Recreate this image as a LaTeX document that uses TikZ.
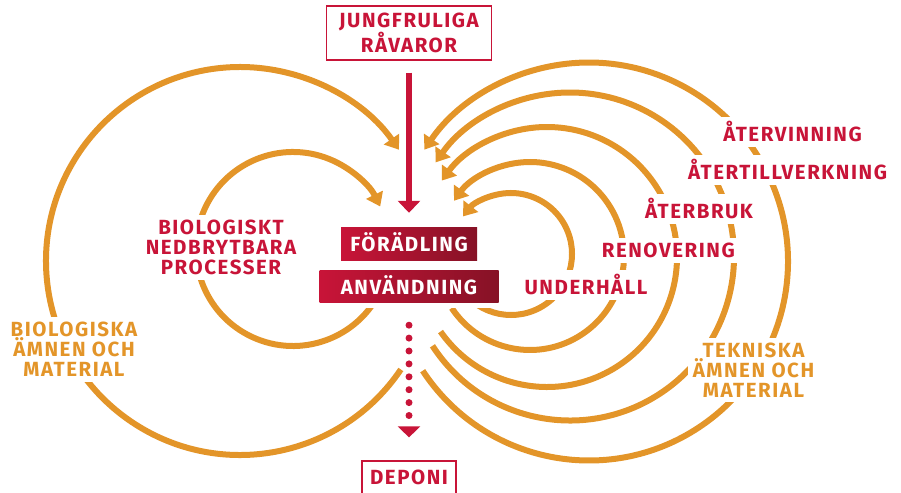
\documentclass[tikz,border=0pt]{standalone}
\usepackage{fontspec}
\setmainfont{Fira Sans}[LetterSpace=7.5]
\usetikzlibrary{arrows.meta}
\definecolor{loopgold}{RGB}{227,149,41}
\definecolor{stagered}{RGB}{200,20,56}
\definecolor{stagedark}{RGB}{134,18,38}

\begin{document}
\begin{tikzpicture}[
    x=1pt, y=1pt,
    every node/.style={font=\fontsize{20.5}{20}\selectfont\bfseries, align=center},
    stage/.style={text=white, left color=stagered, right color=stagedark, text height=14.3pt, text depth=0pt, inner sep=0pt, preaction={draw=white, line width=10pt}},
    endbox/.style={draw=stagered, line width=1.2pt, text=stagered, fill=white, inner sep=0pt},
    loopname/.style={text=stagered, fill=white, inner sep=5pt},
    material/.style={text=loopgold, fill=white, inner sep=5pt},
    goldloop/.style={draw=loopgold, line width=6pt, -{Triangle[width=18pt,length=13pt]}},
    inflow/.style={draw=stagered, line width=6.5pt, -{Triangle[width=22pt,length=12pt]}},
    landfill/.style={draw=stagered, line width=7pt, line cap=round, dash pattern=on 0pt off 12.9pt, -{Triangle[width=22pt,length=11pt]}}
]
\useasboundingbox (0,0) rectangle (901,492);

% Centres of the loops
\coordinate (bioouter) at (240,231);
\coordinate (bioinner) at (293,243);
\coordinate (tek1) at (511,238);
\coordinate (tek2) at (530,236);
\coordinate (tek3) at (547,235);
\coordinate (tek4) at (570,235.5);
\coordinate (tek5) at (589,230.5);

% Biological loops
\draw[goldloop] (bioouter) ++(-34:194) arc[start angle=-34, end angle=-325, radius=194];
\draw[goldloop] (bioinner) ++(-25:97) arc[start angle=-25, end angle=-334, radius=97];

% Technical loops
\draw[goldloop] (tek1) ++(-146:61) arc[start angle=-146, end angle=142, radius=61];
\draw[goldloop] (tek2) ++(-146.4:94) arc[start angle=-146.4, end angle=144, radius=94];
\draw[goldloop] (tek3) ++(-145:130) arc[start angle=-145, end angle=144, radius=130];
\draw[goldloop] (tek4) ++(-147:164) arc[start angle=-147, end angle=145, radius=164];
\draw[goldloop] (tek5) ++(-146.7:199) arc[start angle=-146.7, end angle=145.8, radius=199];

% Main chain
\node[endbox, minimum width=165, minimum height=54] (ravaror) at (409,459) {JUNGFRULIGA\\RÅVAROR};
\node[stage, minimum width=136, minimum height=33] (foradling) at (409,247.5) {FÖRÄDLING};
\node[stage, minimum width=179, minimum height=32] (anvandning) at (409,205) {ANVÄNDNING};
\node[endbox, minimum width=94, minimum height=33, text height=14.3pt, text depth=0pt] (deponi) at (409,14.5) {DEPONI};

\draw[inflow, shorten <=12pt, shorten >=15pt] (ravaror) -- (foradling);
\draw[landfill, shorten <=22pt, shorten >=23pt] (anvandning) -- (deponi);

% Loop names
\node[loopname, anchor=base] (atervinning) at (792.5,350) {ÅTERVINNING};
\node[loopname, anchor=base] (atertill) at (787.5,312) {ÅTERTILLVERKNING};
\node[loopname, anchor=base] (aterbruk) at (699,273) {ÅTERBRUK};
\node[loopname, anchor=base] (renovering) at (668.3,234.7) {RENOVERING};
\node[loopname, anchor=base] (underhall) at (586,197) {UNDERHÅLL};
\node[loopname] (nedbrytbara) at (221,244.5) {BIOLOGISKT\\NEDBRYTBARA\\PROCESSER};

% Materials
\node[material] (bioamnen) at (74,142.5) {BIOLOGISKA\\ÄMNEN OCH\\MATERIAL};
\node[material] (tekamnen) at (753.5,122) {TEKNISKA\\ÄMNEN OCH\\MATERIAL};

\end{tikzpicture}
\end{document}
